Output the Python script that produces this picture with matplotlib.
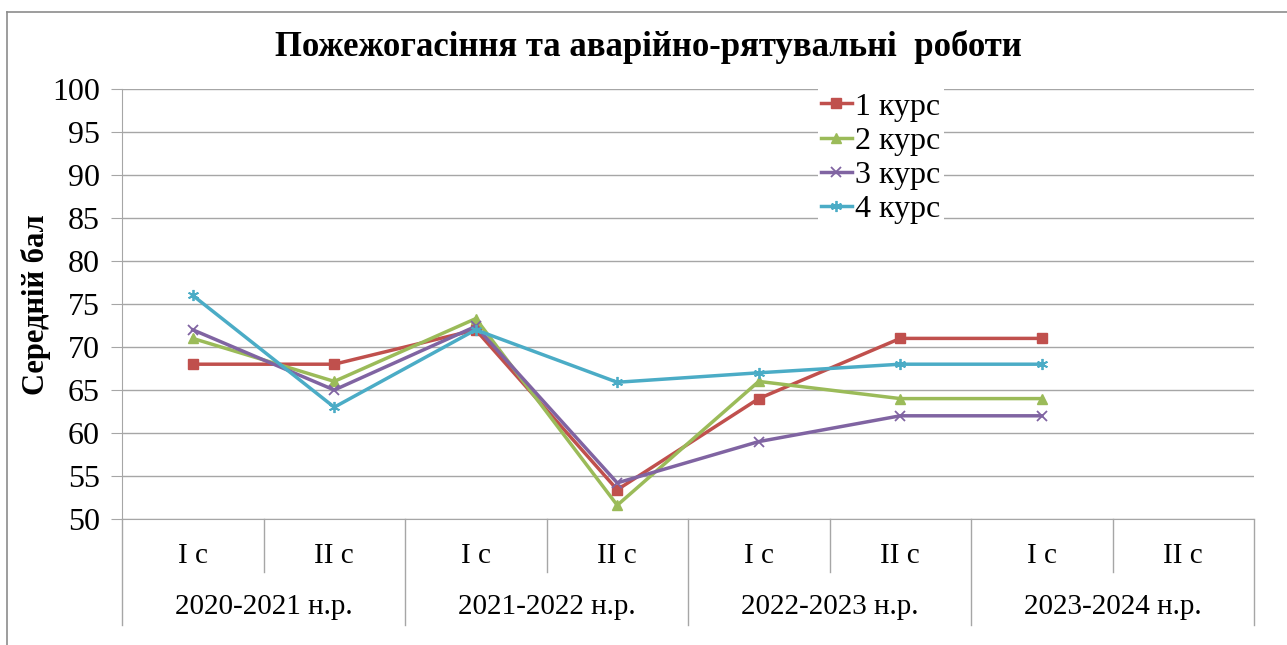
import matplotlib
matplotlib.use("Agg")
import matplotlib.pyplot as plt
import matplotlib.transforms as mtransforms
from matplotlib.lines import Line2D

plt.rcParams['font.family'] = ['Liberation Serif', 'DejaVu Serif']

# data
semesters = ['I с', 'II с', 'I с', 'II с', 'I с', 'II с', 'I с', 'II с']
years = ['2020-2021 н.р.', '2021-2022 н.р.', '2022-2023 н.р.', '2023-2024 н.р.']
kurs1 = [68, 68, 72, 53.4, 64, 71, 71]
kurs2 = [71, 66, 73.3, 51.6, 66, 64, 64]
kurs3 = [72, 65, 72.4, 54.2, 59, 62, 62]
kurs4 = [76, 63, 72, 65.9, 67, 68, 68]
names = ['1 курс', '2 курс', '3 курс', '4 курс']
yticks = [50, 55, 60, 65, 70, 75, 80, 85, 90, 95, 100]
colors = ['#C0504D', '#9BBB59', '#8064A2', '#4BACC6']
markers = ['s', '^', 'x', (6, 2, 0)]
msizes = [7, 7, 7, 8]

W, H = 1287, 645
fig = plt.figure(figsize=(W / 100, H / 100), dpi=100)
ax = fig.add_axes([122 / W, 1 - 519 / H, 1132 / W, 430 / H])

grid_c = '#A6A6A6'
for i, vals in enumerate([kurs1, kurs2, kurs3, kurs4]):
    ax.plot(range(len(vals)), vals, color=colors[i], lw=2.5, marker=markers[i],
            ms=msizes[i], mew=1.3 if i >= 2 else 1, label=names[i], zorder=3)

ax.set_xlim(-0.5, 7.5)
ax.set_ylim(50, 100)
ax.set_yticks(yticks)
ax.set_yticklabels([str(v) for v in yticks], fontfamily='Liberation Serif', fontsize=23)
ax.yaxis.grid(True, color=grid_c, lw=1)
ax.set_axisbelow(True)
ax.tick_params(axis='y', direction='out', length=8, color=grid_c, pad=8)
ax.set_xticks([])
for s in ['top', 'right']:
    ax.spines[s].set_visible(False)
ax.spines['left'].set_color(grid_c)
ax.spines['bottom'].set_color(grid_c)

# two-level category axis
tr = mtransforms.blended_transform_factory(ax.transData, ax.transAxes)
sem_low = (519 - 572) / 430
year_low = (519 - 625) / 430
for x in [0.5, 2.5, 4.5, 6.5]:
    ax.plot([x, x], [0, sem_low], transform=tr, color=grid_c, lw=1, clip_on=False)
for x in [-0.5, 1.5, 3.5, 5.5, 7.5]:
    ax.plot([x, x], [0, year_low], transform=tr, color=grid_c, lw=1, clip_on=False)
for i, s in enumerate(semesters):
    ax.text(i, (519 - 556) / 430, s, transform=tr, ha='center', va='center', fontsize=21)
for i, y in enumerate(years):
    ax.text(2 * i + 0.5, (519 - 607) / 430, y, transform=tr, ha='center', va='center', fontsize=21)

ax.set_ylabel('Середній бал', fontsize=22, fontweight='bold')
ax.yaxis.set_label_coords((51 - 122) / 1132, (519 - 305) / 430)

fig.text(648 / W, 1 - 47 / H, 'Пожежогасіння та аварійно-рятувальні  роботи',
         ha='center', va='center', fontsize=25, fontweight='bold')

leg = ax.legend(loc='upper left', bbox_to_anchor=(818 / W, 1 - 89 / H),
                bbox_transform=fig.transFigure, fontsize=23, frameon=True,
                facecolor='white', edgecolor='none', framealpha=1, fancybox=False,
                handlelength=0.95, handletextpad=0.12, labelspacing=0.15,
                borderpad=0.1, borderaxespad=0)

# outer chart border
fig.add_artist(Line2D([7 / W, 1.0], [1 - 12 / H, 1 - 12 / H], transform=fig.transFigure,
                      color='#8C8C8C', lw=1.2))
fig.add_artist(Line2D([7 / W, 7 / W], [0, 1 - 12 / H], transform=fig.transFigure,
                      color='#8C8C8C', lw=1.2))

fig.savefig('out.png', dpi=100)
